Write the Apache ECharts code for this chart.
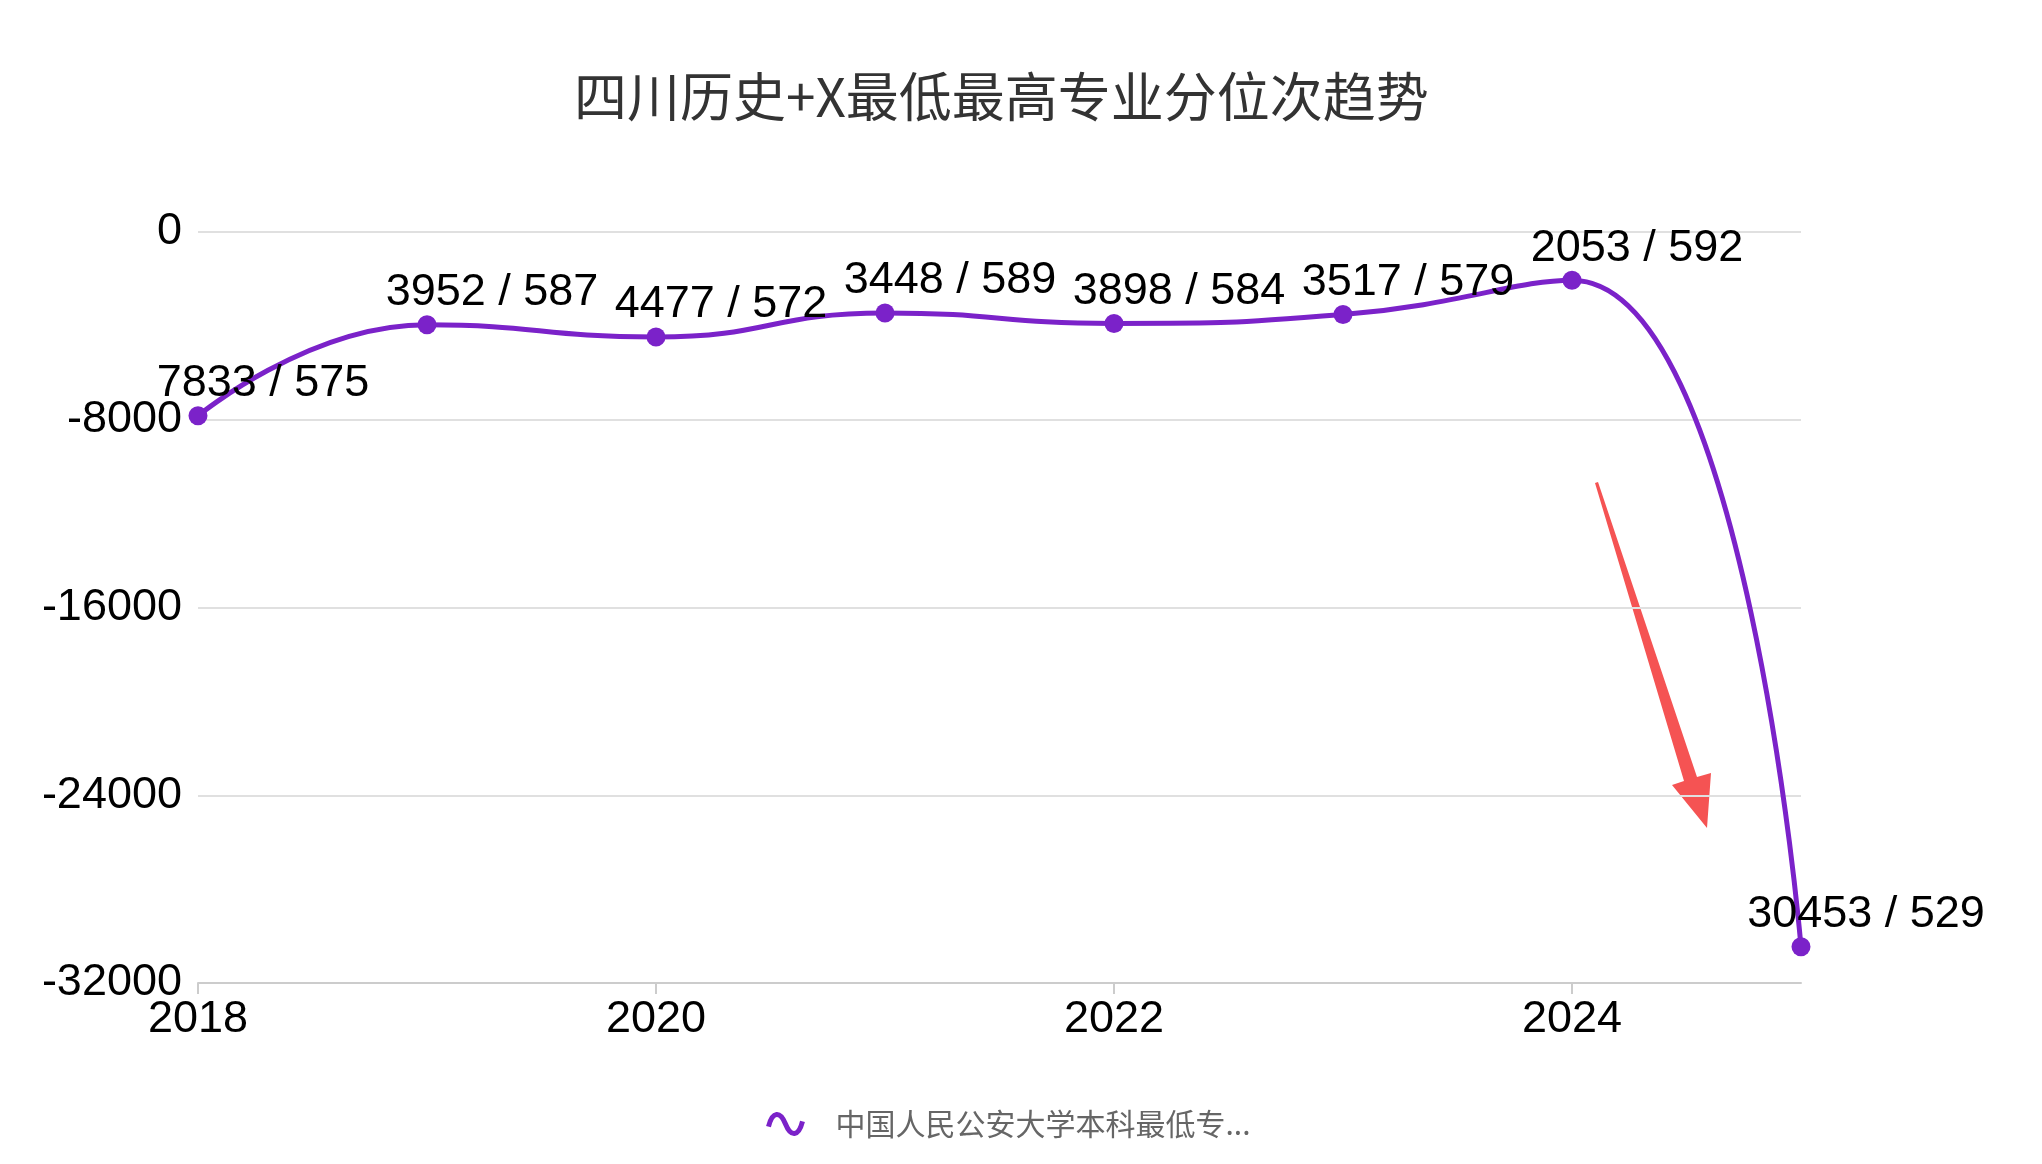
<!DOCTYPE html>
<html>
<head>
<meta charset="utf-8">
<title>四川历史+X最低最高专业分位次趋势</title>
<script src="https://cdn.jsdelivr.net/npm/echarts@6/dist/echarts.min.js"></script>
<style>
  html, body { margin: 0; padding: 0; background: #fff; }
  #main { width: 2042px; height: 1164px; }
</style>
</head>
<body>
<div id="main"></div>
<script>
// 数据
var years = ['2018', '2019', '2020', '2021', '2022', '2023', '2024', '2025'];
var minRank = [7833, 3952, 4477, 3448, 3898, 3517, 2053, 30453];
var minScore = [575, 587, 572, 589, 584, 579, 592, 529];
var seriesName = '中国人民公安大学本科最低专业分位次';
var yTicks = { min: -32000, max: 0, interval: 8000 };

var purple = '#7b22c9';
var latin = '"Liberation Sans", Arial, Helvetica, sans-serif';
var cjk = '"Noto Sans CJK SC", "Liberation Sans", sans-serif';

var myChart = echarts.init(document.getElementById('main'));

var option = {
    backgroundColor: '#fff',
    animation: false,
    title: {
        text: '四川历史+X最低最高专业分位次趋势',
        left: 569,
        top: 65,
        textStyle: {
            fontFamily: cjk,
            fontSize: 53,
            fontWeight: 'normal',
            color: '#333'
        }
    },
    legend: {
        bottom: 20,
        left: 761,
        icon: 'path://M0,14 C3,2 9,2 13,12 C17,22 23,22 26,10',
        itemWidth: 34,
        itemHeight: 22,
        itemStyle: {
            color: 'rgba(0,0,0,0)',
            borderColor: purple,
            borderWidth: 5
        },
        formatter: function (name) {
            return name.slice(0, 13) + '...';
        },
        textStyle: {
            fontFamily: cjk,
            fontSize: 30,
            color: '#666',
            padding: [0, 0, 0, 28]
        }
    },
    grid: {
        left: 198,
        right: 241,
        top: 232,
        bottom: 181
    },
    xAxis: {
        type: 'category',
        boundaryGap: false,
        data: years,
        axisLine: { onZero: false, lineStyle: { color: '#ccc', width: 2 } },
        axisTick: { interval: 1, length: 11, lineStyle: { color: '#ccc', width: 2 } },
        axisLabel: {
            interval: 1,
            margin: 14,
            fontFamily: latin,
            fontSize: 45,
            color: '#000'
        }
    },
    yAxis: {
        type: 'value',
        min: yTicks.min,
        max: yTicks.max,
        interval: yTicks.interval,
        axisLine: { show: false },
        axisTick: { show: false },
        axisLabel: {
            margin: 16,
            fontFamily: latin,
            fontSize: 45,
            color: '#000',
            formatter: function (v) { return String(v); }
        },
        splitLine: { lineStyle: { color: '#e0e0e0', width: 2 } }
    },
    series: [
        {
            name: seriesName,
            type: 'line',
            smooth: true,
            data: minRank.map(function (v) { return -v; }),
            symbol: 'circle',
            symbolSize: 19,
            itemStyle: { color: purple },
            lineStyle: { color: purple, width: 5 },
            label: {
                show: true,
                position: 'top',
                distance: 0,
                offset: [65, 0],
                fontFamily: latin,
                fontSize: 45,
                color: '#000',
                formatter: function (p) {
                    return minRank[p.dataIndex] + ' / ' + minScore[p.dataIndex];
                }
            }
        }
    ],
    // 截图上的红色箭头标注
    graphic: [
        {
            type: 'polygon',
            shape: {
                points: [
                    [1595, 483], [1598, 482], [1697, 777], [1711, 773],
                    [1707, 828], [1672, 785], [1684, 781]
                ]
            },
            style: { fill: '#f55353' }
        }
    ]
};

myChart.setOption(option);
</script>
</body>
</html>
